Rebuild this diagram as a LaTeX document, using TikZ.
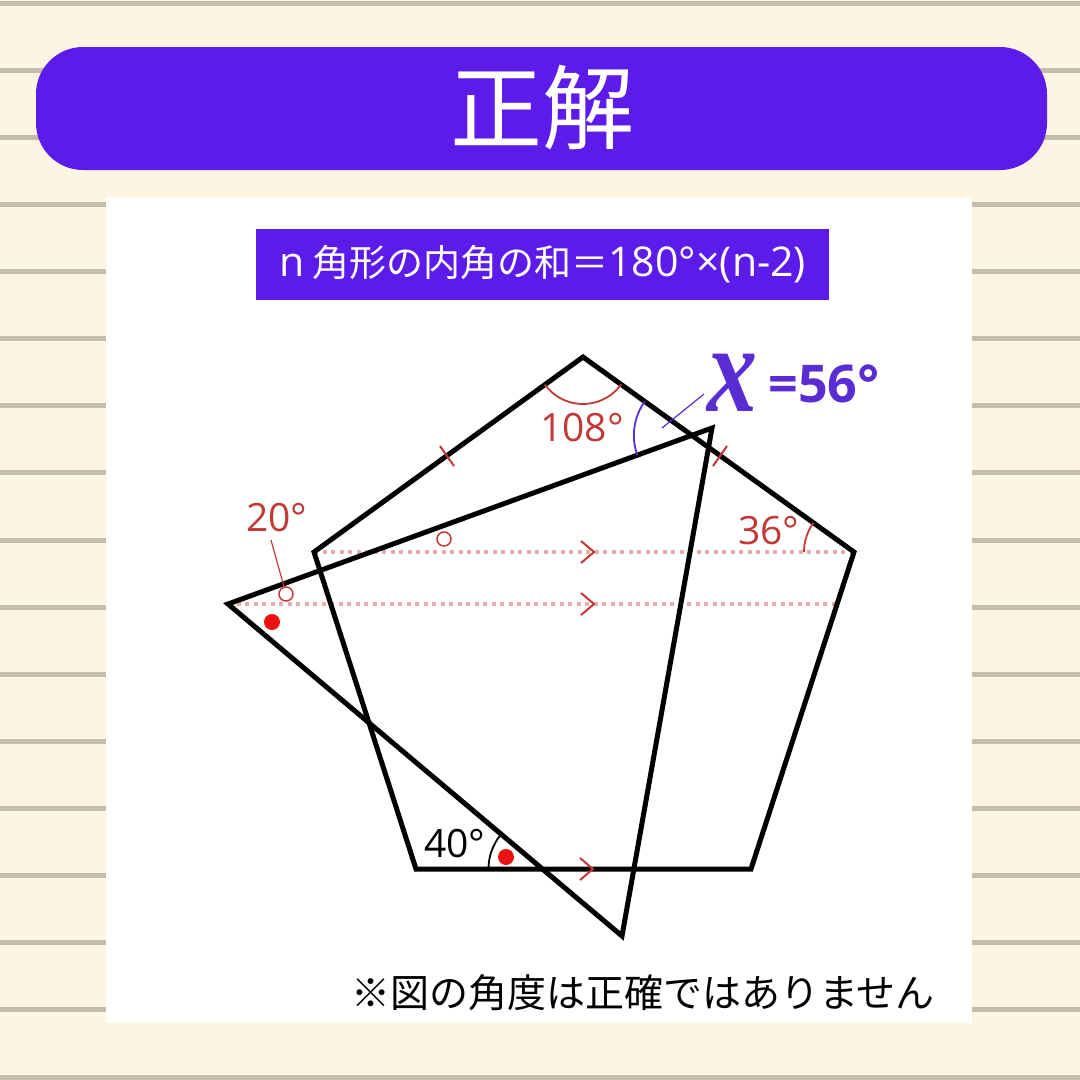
\documentclass[tikz,border=0pt]{standalone}
\usepackage{fontspec}
\setmainfont{Open Sans}
\newfontfamily\jp{Noto Sans CJK JP}
\newfontfamily\xserif{Liberation Serif}
\usetikzlibrary{angles,calc}
\definecolor{bg}{HTML}{FDF4E1}
\definecolor{rulec}{HTML}{C5BCA9}
\definecolor{vio}{HTML}{5C1BE9}
\definecolor{xvio}{HTML}{5A2CD4}
\definecolor{dred}{HTML}{C23A36}
\definecolor{dotc}{HTML}{E3AEAE}
\definecolor{dotred}{HTML}{EE1111}
\newcommand{\lat}[1]{{\rmfamily\fontsize{41}{41}\selectfont #1}}
\tikzset{
  poly/.style={draw=black, line width=5pt, line join=miter},
  dotline/.style={draw=dotc, line width=4pt, dash pattern=on 4pt off 4.5pt},
  chev/.style={draw=dred, line width=2pt},
  tickm/.style={draw=dred, line width=2pt},
  arcred/.style={draw=dred, line width=1.8pt},
  arcblk/.style={draw=black, line width=1.8pt},
  arcvio/.style={draw=xvio, line width=1.8pt},
  lbl/.style={font=\fontsize{39}{39}\selectfont, inner sep=0pt},
  ocirc/.style={circle, draw=dred, line width=1.5pt, minimum size=14pt, inner sep=0pt},
  rdot/.style={circle, fill=dotred, minimum size=16pt, inner sep=0pt},
}
\begin{document}
\begin{tikzpicture}[x=1pt,y=-1pt]
\fill[bg] (0,0) rectangle (1080,1080);
\useasboundingbox (0,0) rectangle (1080,1080);
\foreach \k in {0,...,16} {
  \fill[rulec] (0,{0.5+67.125*\k}) rectangle (1080,{5.5+67.125*\k});
}
% banner
\fill[vio, rounded corners=47pt] (36,47) rectangle (1047,170);
\node[text=white, font=\jp\fontsize{92}{92}\selectfont, inner sep=0pt] (title) at (542,108) {正解};
% panel
\fill[white] (106,197) rectangle (972,1023);
\node[fill=vio, text=white, minimum width=573pt, minimum height=71pt, inner sep=0pt,
      font=\jp\fontsize{37}{37}\selectfont] (formula) at (542.5,264.5) {\lat{n} 角形の内角の和＝\lat{180°×(n-2)}};

% coordinates
\coordinate (P1) at (583,357);
\coordinate (P2) at (854,552);
\coordinate (P3) at (751,869);
\coordinate (P4) at (416,869);
\coordinate (P5) at (314,552);
\coordinate (T1) at (228,604);
\coordinate (T2) at (712,428);
\coordinate (T3) at (622,936);
\coordinate (Q) at (837,604);
\coordinate (I) at (intersection of P1--P2 and T1--T2);
\coordinate (J) at (intersection of P3--P4 and T1--T3);

% dotted parallels
\draw[dotline] (P5) -- (P2);
\draw[dotline] (T1) -- (Q);

% polygons
\draw[poly] (P1) -- (P2) -- (P3) -- (P4) -- (P5) -- cycle;
\draw[poly] (T1) -- (T2) -- (T3) -- cycle;

% chevrons
\draw[chev] (581,541) -- ++(13,11) -- ++(-13,11);
\draw[chev] (581,593) -- ++(13,11) -- ++(-13,11);
\draw[chev] (580,858) -- ++(13,11) -- ++(-13,11);

% ticks
\draw[tickm] (440,446) -- (454,466);
\draw[tickm] (713,466) -- (727,446);

% angles
\pic[arcred, angle radius=47pt] {angle = P5--P1--P2};
\pic[arcred, angle radius=50pt] {angle = P1--P2--P5};
\pic[arcblk, angle radius=54pt] {angle = T1--J--P4};
\pic[arcvio, angle radius=58pt] {angle = P1--I--T1};

% labels
\node[lbl, text=dred] (l108) at (582,428) {108°};
\node[lbl, text=dred] (l36) at (769,531) {36°};
\node[lbl, text=dred] (l20) at (277,518) {20°};
\node[lbl, text=black] (l40) at (455,844) {40°};

% circles and dots
\node[ocirc] (c1) at (286,594) {};
\node[ocirc] (c2) at (444,539) {};
\node[rdot] (d1) at (272,622) {};
\node[rdot] (d2) at (506,857) {};
\coordinate (L1) at (271,540);
\draw[dred, line width=1.2pt] (L1) -- (c1);

% x label
\coordinate (X1) at (662,428);
\coordinate (X2) at (704,394);
\draw[xvio, line width=1.2pt] (X1) -- (X2);
\node[text=xvio, inner sep=0pt] (xlab) at (732,383) {\scalebox{0.8}[1]{\xserif\bfseries\itshape\fontsize{125}{125}\selectfont x}};
\node[text=xvio, inner sep=0pt, font=\bfseries\fontsize{52}{52}\selectfont] (val) at (824,384) {=56°};

% note
\node[font=\jp\fontsize{39}{39}\selectfont, inner sep=0pt] (note) at (643,993) {※図の角度は正確ではありません};
\end{tikzpicture}
\end{document}
